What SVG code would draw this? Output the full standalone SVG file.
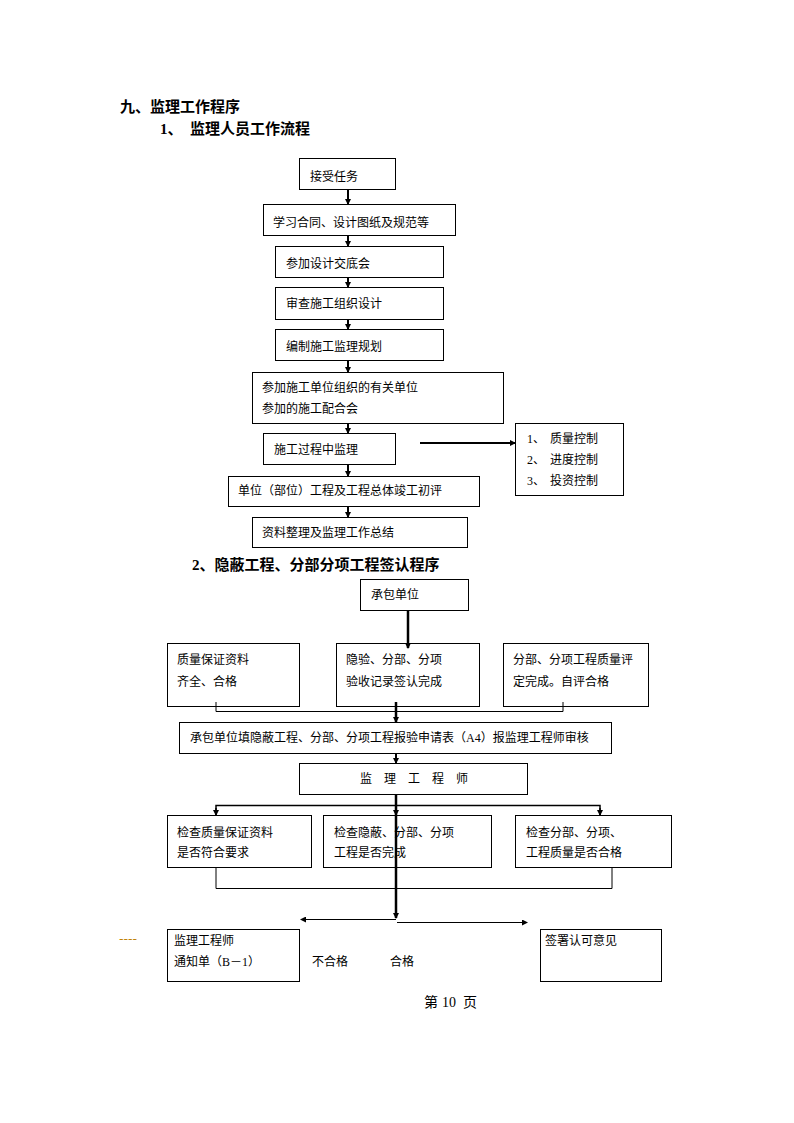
<svg xmlns="http://www.w3.org/2000/svg" width="794" height="1123" viewBox="0 0 794 1123">
<style>
.bg{fill:#fff}
.box{fill:#fff;stroke:#000;stroke-width:1}
.t{font-family:"Noto Sans CJK SC","Liberation Sans",sans-serif;font-size:12px;fill:#000}
.h{font-family:"Noto Sans CJK SC","Liberation Sans",sans-serif;font-size:15px;font-weight:bold;fill:#000}
.num{font-family:"Liberation Serif","Noto Sans CJK SC",serif}
.thick{stroke:#000;stroke-width:2;fill:none}
.thin{stroke:#000;stroke-width:1;fill:none}
.ft{font-family:"Liberation Serif","Noto Sans CJK SC",serif;font-size:14px;fill:#000}
</style>
<defs>
<marker id="a" markerUnits="userSpaceOnUse" markerWidth="6" markerHeight="6" refX="5" refY="3" orient="auto">
<path d="M0,0 L6,3 L0,6 z" fill="#000"/>
</marker>
</defs>
<rect class="bg" x="0" y="0" width="794" height="1123"/>

<text class="h" x="120" y="112">九、监理工作程序</text>
<text class="h" x="160" y="134"><tspan class="num">1</tspan>、 <tspan x="190">监理人员工作流程</tspan></text>

<g id="n1"><rect class="box" x="299.5" y="158.5" width="96" height="31"/><text class="t" x="310" y="181">接受任务</text></g>
<g id="n2"><rect class="box" x="263.5" y="204.5" width="192" height="31"/><text class="t" x="273" y="227">学习合同、设计图纸及规范等</text></g>
<g id="n3"><rect class="box" x="275.5" y="246.5" width="168" height="31"/><text class="t" x="286" y="268">参加设计交底会</text></g>
<g id="n4"><rect class="box" x="275.5" y="287.5" width="168" height="32"/><text class="t" x="286" y="308">审查施工组织设计</text></g>
<g id="n5"><rect class="box" x="275.5" y="329.5" width="168" height="31"/><text class="t" x="286" y="351">编制施工监理规划</text></g>
<g id="n6"><rect class="box" x="252.5" y="372.5" width="251" height="51"/><text class="t" x="262" y="392">参加施工单位组织的有关单位</text><text class="t" x="262" y="413">参加的施工配合会</text></g>
<g id="n7"><rect class="box" x="263.5" y="433.5" width="132" height="31"/><text class="t" x="274" y="454">施工过程中监理</text></g>
<g id="n8"><rect class="box" x="228.5" y="476.5" width="251" height="30"/><text class="t" x="238" y="495">单位（部位）工程及工程总体竣工初评</text></g>
<g id="n9"><rect class="box" x="252.5" y="517.5" width="215" height="30"/><text class="t" x="262" y="537">资料整理及监理工作总结</text></g>
<g id="n10"><rect class="box" x="515.5" y="423.5" width="108" height="72"/>
<text class="t" x="527" y="443"><tspan class="num">1</tspan>、<tspan x="550">质量控制</tspan></text>
<text class="t" x="527" y="464"><tspan class="num">2</tspan>、<tspan x="550">进度控制</tspan></text>
<text class="t" x="527" y="485"><tspan class="num">3</tspan>、<tspan x="550">投资控制</tspan></text></g>

<text class="h" x="192" y="570"><tspan class="num">2</tspan>、隐蔽工程、分部分项工程签认程序</text>

<g id="m1"><rect class="box" x="360.5" y="579.5" width="108" height="31"/><text class="t" x="371" y="599">承包单位</text></g>
<g id="m2"><rect class="box" x="167.5" y="643.5" width="132" height="63"/><text class="t" x="177" y="664">质量保证资料</text><text class="t" x="177" y="686">齐全、合格</text></g>
<g id="m3"><rect class="box" x="336.5" y="643.5" width="143" height="63"/><text class="t" x="346" y="664">隐验、分部、分项</text><text class="t" x="346" y="686">验收记录签认完成</text></g>
<g id="m4"><rect class="box" x="503.5" y="643.5" width="145" height="63"/><text class="t" x="513" y="664">分部、分项工程质量评</text><text class="t" x="513" y="686">定完成。自评合格</text></g>
<g id="m5"><rect class="box" x="179.5" y="722.5" width="432" height="31"/><text class="t" x="190" y="742">承包单位填隐蔽工程、分部、分项工程报验申请表（<tspan class="num">A4</tspan>）报监理工程师审核</text></g>
<g id="m6"><rect class="box" x="299.5" y="763.5" width="228" height="31"/><text class="t" y="783"><tspan x="360">监</tspan><tspan x="384">理</tspan><tspan x="408">工</tspan><tspan x="432">程</tspan><tspan x="456">师</tspan></text></g>
<g id="m7"><rect class="box" x="167.5" y="815.5" width="144" height="52"/><text class="t" x="177" y="837">检查质量保证资料</text><text class="t" x="177" y="857">是否符合要求</text></g>
<g id="m8"><rect class="box" x="323.5" y="815.5" width="168" height="52"/><text class="t" x="334" y="837">检查隐蔽、分部、分项</text><text class="t" x="334" y="857">工程是否完成</text></g>
<g id="m9"><rect class="box" x="515.5" y="815.5" width="156" height="52"/><text class="t" x="526" y="837">检查分部、分项、</text><text class="t" x="526" y="857">工程质量是否合格</text></g>
<g id="m10"><rect class="box" x="167.5" y="929.5" width="132" height="52"/><text class="t" x="174" y="945">监理工程师</text><text class="t" x="174" y="966">通知单（<tspan class="num">B</tspan>－<tspan class="num">1</tspan>）</text></g>
<g id="m11"><rect class="box" x="540.5" y="929.5" width="121" height="52"/><text class="t" x="545" y="945">签署认可意见</text></g>

<text class="t" x="312" y="966">不合格</text>
<text class="t" x="390" y="966">合格</text>
<text class="t" x="119" y="943" style="fill:#c08000;font-size:13px">----</text>
<text class="ft" y="1007"><tspan x="424">第</tspan><tspan x="442">10</tspan><tspan x="463">页</tspan></text>

<g id="connectors">
<line class="thick" x1="348" y1="189" x2="348" y2="204" marker-end="url(#a)"/>
<line class="thick" x1="348" y1="235" x2="348" y2="246" marker-end="url(#a)"/>
<line class="thick" x1="348" y1="277" x2="348" y2="287" marker-end="url(#a)"/>
<line class="thick" x1="348" y1="319" x2="348" y2="329" marker-end="url(#a)"/>
<line class="thick" x1="348" y1="360" x2="348" y2="372" marker-end="url(#a)"/>
<line class="thick" x1="348" y1="423" x2="348" y2="433" marker-end="url(#a)"/>
<line class="thick" x1="348" y1="464" x2="348" y2="476" marker-end="url(#a)"/>
<line class="thick" x1="348" y1="506" x2="348" y2="517" marker-end="url(#a)"/>
<line class="thick" x1="420" y1="443" x2="515" y2="443" marker-end="url(#a)"/>

<line class="thick" x1="408" y1="611" x2="408" y2="648" marker-end="url(#a)" style="stroke-width:2.5"/>
<polyline class="thin" points="216,702 216,711.5 563,711.5 563,702"/>
<line class="thick" x1="396" y1="702" x2="396" y2="722" marker-end="url(#a)" style="stroke-width:2.5"/>
<line class="thick" x1="396" y1="753" x2="396" y2="763" marker-end="url(#a)"/>
<line class="thick" x1="396" y1="794" x2="396" y2="918" marker-end="url(#a)" style="stroke-width:2.5"/>
<polyline class="thin" points="216,815 216,805.5 600,805.5 600,815" style="stroke-width:1.5"/>
<line x1="216" y1="808" x2="216" y2="815" stroke="#000" stroke-width="1.5" marker-end="url(#a)"/>
<line x1="396" y1="808" x2="396" y2="815" stroke="#000" stroke-width="1.5" marker-end="url(#a)"/>
<line x1="600" y1="808" x2="600" y2="815" stroke="#000" stroke-width="1.5" marker-end="url(#a)"/>
<polyline class="thin" points="216,867 216,888.5 612,888.5 612,867"/>
<line class="thin" x1="396" y1="919.5" x2="301" y2="919.5" marker-end="url(#a)"/>
<line class="thin" x1="397" y1="922.5" x2="527" y2="922.5" marker-end="url(#a)"/>
</g>
</svg>
